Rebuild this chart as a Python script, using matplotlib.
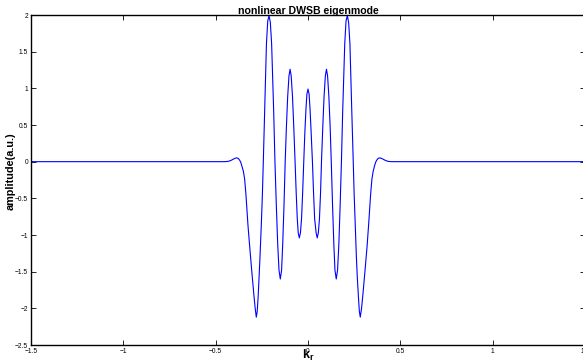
import matplotlib
matplotlib.use('Agg')
import matplotlib.pyplot as plt

# values
kr = [-1.5, -0.45, -0.43, -0.415, -0.40, -0.388, -0.378, -0.370, -0.364, -0.358,
      -0.350, -0.343, -0.336, -0.330, -0.325, -0.316, -0.307, -0.300, -0.293, -0.286, -0.280,
      -0.275, -0.270, -0.265, -0.260, -0.253, -0.247, -0.242,
      -0.2346, -0.225, -0.218, -0.211, -0.204, -0.197, -0.186, -0.179,
      -0.1715, -0.164, -0.157, -0.150, -0.143, -0.137, -0.130, -0.1235,
      -0.117, -0.110, -0.103, -0.097, -0.091, -0.084, -0.077, -0.070,
      -0.064, -0.058, -0.053, -0.047, -0.041, -0.035, -0.029, -0.023,
      -0.017, -0.011, -0.006, 0.0, 0.006, 0.011, 0.017, 0.024,
      0.030, 0.036, 0.044, 0.050, 0.056, 0.062, 0.068, 0.073,
      0.080, 0.087, 0.094, 0.100, 0.106, 0.113, 0.120, 0.126,
      0.133, 0.140, 0.146, 0.153, 0.160, 0.167, 0.174, 0.181,
      0.188, 0.199, 0.206, 0.213, 0.220, 0.227, 0.237, 0.245,
      0.250, 0.256, 0.262, 0.267, 0.273, 0.278, 0.283, 0.290, 0.297, 0.304,
      0.311, 0.320, 0.328, 0.333, 0.339, 0.346, 0.353, 0.360, 0.366, 0.372, 0.380,
      0.390, 0.402, 0.417, 0.432, 0.45, 1.5]
amplitude = [0.0, 0.0, 0.005, 0.02, 0.04, 0.052, 0.045, 0.02, -0.01, -0.06,
             -0.13, -0.24, -0.45, -0.68, -0.87, -1.15, -1.42, -1.62, -1.82, -2.00, -2.12,
             -2.04, -1.84, -1.58, -1.30, -0.87, -0.45, 0.0,
             0.70, 1.61, 1.92, 1.99, 1.90, 1.61, 0.70, 0.0,
             -0.60, -1.13, -1.48, -1.60, -1.48, -1.13, -0.60, 0.0,
             0.47, 0.89, 1.17, 1.26, 1.17, 0.89, 0.47, 0.0,
             -0.42, -0.78, -0.97, -1.04, -0.97, -0.78, -0.42, 0.0,
             0.40, 0.72, 0.92, 0.99, 0.92, 0.72, 0.40, 0.0,
             -0.42, -0.78, -0.97, -1.04, -0.97, -0.78, -0.42, 0.0,
             0.47, 0.89, 1.17, 1.26, 1.17, 0.89, 0.47, 0.0,
             -0.60, -1.13, -1.48, -1.60, -1.48, -1.13, -0.60, 0.0,
             0.70, 1.61, 1.92, 1.99, 1.90, 1.61, 0.70, 0.0,
             -0.45, -0.87, -1.30, -1.58, -1.84, -2.04, -2.12, -2.00, -1.82, -1.62,
             -1.42, -1.15, -0.87, -0.68, -0.45, -0.24, -0.13, -0.06, -0.01, 0.02, 0.045,
             0.052, 0.04, 0.02, 0.005, 0.0, 0.0]

xticks = [-1.5, -1, -0.5, 0, 0.5, 1, 1.5]
xticklabels = ['\u22121.5', '\u22121', '\u22120.5', '0', '0.5', '1', '1.5']
yticks = [-2.5, -2, -1.5, -1, -0.5, 0, 0.5, 1, 1.5, 2]
yticklabels = ['\u22122.5', '\u22122', '\u22121.5', '\u22121', '\u22120.5', '0', '0.5', '1', '1.5', '2']

plt.rcParams['font.family'] = ['Liberation Sans', 'DejaVu Sans']
plt.rcParams['mathtext.fontset'] = 'custom'
plt.rcParams['mathtext.bf'] = 'Liberation Sans:bold'
plt.rcParams['mathtext.rm'] = 'Liberation Sans'

fig = plt.figure(figsize=(5.83, 3.62), dpi=100)
ax = fig.add_axes([31 / 583, 17 / 362, 554 / 583, 330 / 362])

ax.plot(kr, amplitude, color='#0000ff', linewidth=0.8)

ax.set_xlim(-1.5, 1.5)
ax.set_ylim(-2.5, 2)
ax.set_xticks(xticks)
ax.set_xticklabels(xticklabels)
ax.set_yticks(yticks)
ax.set_yticklabels(yticklabels)
ax.tick_params(direction='in', top=True, right=True, length=3.5, width=0.6,
               labelsize=4.8, pad=2)

for s in ax.spines.values():
    s.set_linewidth(1.0)

ax.set_title('nonlinear DWSB eigenmode', fontsize=7.6, fontweight='bold', pad=0.5)
ax.set_ylabel('amplitude(a.u.)', fontsize=7.8, fontweight='bold')
ax.yaxis.set_label_coords(-0.027, 0.527)
ax.set_xlabel(r'$\mathbf{k_r}$', fontsize=9)
ax.xaxis.set_label_coords(0.5, -0.008)

fig.savefig('out.png', dpi=100)
